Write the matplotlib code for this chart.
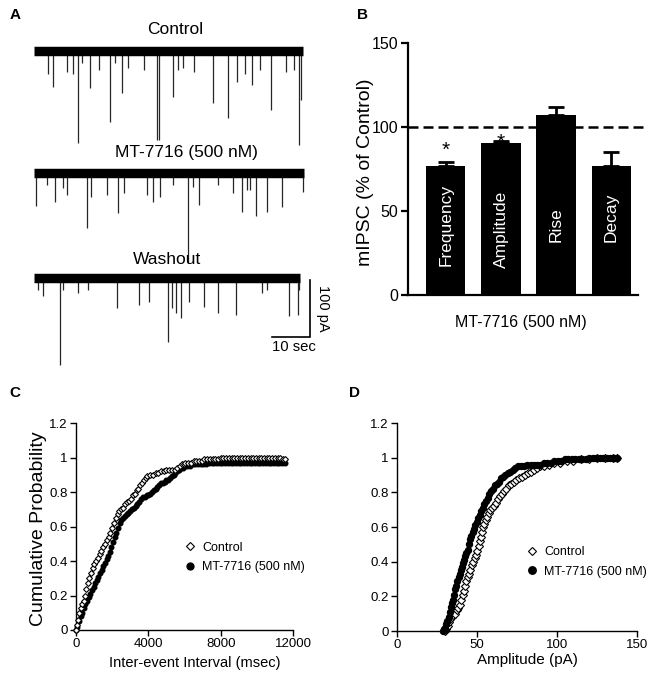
import matplotlib
matplotlib.use('Agg')
import matplotlib.pyplot as plt

plt.rcParams['font.family'] = ['Liberation Sans', 'DejaVu Sans']

# ---------------- Panel A data (event times in s, amplitudes in pA) ----------------
trace_names = ['Control', 'MT-7716 (500 nM)', 'Washout']
trace_dur = [70.8, 71.1, 70.0]
ctrl_t = [3.8, 5.1, 8.6, 10.2, 11.7, 12.6, 14.7, 17.2, 20.0, 21.3, 23.1, 24.8, 28.9, 32.4, 33.0,
          36.7, 38.0, 39.1, 42.2, 47.2, 51.1, 53.5, 55.5, 57.3, 59.5, 62.3, 66.2, 68.5, 69.8, 70.2]
ctrl_amp = [40, 63, 37, 40, 161, 21, 65, 33, 125, 21, 74, 30, 33, 156, 156,
            81, 33, 30, 37, 91, 118, 54, 40, 60, 33, 104, 37, 33, 165, 86]
mt_t = [0.4, 3.3, 5.5, 7.7, 8.6, 14.0, 14.9, 19.3, 22.2, 23.7, 29.7, 31.2, 33.2, 36.5, 40.6,
        41.9, 43.5, 48.5, 52.4, 54.7, 56.0, 56.8, 58.4, 61.2, 65.2, 70.9]
mt_amp = [58, 21, 51, 26, 39, 96, 42, 39, 70, 35, 39, 51, 42, 21, 158,
          25, 56, 21, 35, 68, 30, 30, 75, 68, 60, 33]
wash_t = [1.1, 2.3, 6.8, 7.6, 11.7, 14.3, 21.8, 27.7, 30.3, 35.2, 36.2, 37.4, 38.7, 40.9,
          44.7, 48.5, 53.2, 59.9, 61.2, 67.2, 69.4, 69.8]
wash_amp = [21, 32, 153, 21, 26, 21, 53, 47, 42, 112, 53, 61, 70, 42,
            51, 61, 65, 26, 21, 67, 65, 21]

# ---------------- Panel B data ----------------
b_categories = ['Frequency', 'Amplitude', 'Rise', 'Decay']
b_values = [77, 90.5, 107, 77]
b_errors = [2, 1, 5, 8]
b_label_pos = [42, 39, 42, 46]
b_star_pos = [80.3, 85.3]
b_yticks = [0, 50, 100, 150]

# ---------------- Panel C data (inter-event interval CDF) ----------------
c_ctrl_x = [0, 50, 110, 180, 260, 340, 420, 500, 580, 660, 740, 830, 920, 1010, 1100, 1200,
            1300, 1400, 1500, 1600, 1700, 1800, 1900, 2000, 2100, 2200, 2300, 2400, 2500, 2600,
            2700, 2800, 2950, 3050, 3150, 3250, 3350, 3450, 3550, 3650, 3750, 3850, 3950, 4100,
            4250, 4400, 4550, 4700, 4850, 5000, 5150, 5300, 5450, 5600, 5750, 5850, 5950, 6050,
            6200, 6350, 6500, 6650, 6800, 6950, 7100, 7250, 7400, 7550, 7700, 7850, 8000, 8150,
            8300, 8450, 8600, 8750, 8900, 9050, 9200, 9350, 9500, 9650, 9800, 9950, 10100, 10250,
            10400, 10550, 10700, 10850, 11000, 11150, 11300, 11450, 11550]
c_ctrl_y = [0.0, 0.03, 0.06, 0.10, 0.13, 0.15, 0.17, 0.20, 0.24, 0.27, 0.30, 0.33, 0.36, 0.38,
            0.40, 0.42, 0.44, 0.46, 0.48, 0.50, 0.52, 0.54, 0.56, 0.59, 0.62, 0.65, 0.67, 0.69,
            0.70, 0.71, 0.73, 0.74, 0.75, 0.76, 0.78, 0.79, 0.81, 0.82, 0.84, 0.85, 0.87, 0.88,
            0.89, 0.90, 0.90, 0.91, 0.91, 0.92, 0.92, 0.93, 0.93, 0.93, 0.93, 0.94, 0.95, 0.96,
            0.96, 0.97, 0.97, 0.97, 0.98, 0.98, 0.98, 0.98, 0.99, 0.99, 0.99, 0.99, 0.99, 0.99,
            1.0, 1.0, 1.0, 1.0, 1.0, 1.0, 1.0, 1.0, 1.0, 1.0, 1.0, 1.0, 1.0, 1.0, 1.0, 1.0, 1.0,
            1.0, 1.0, 1.0, 1.0, 1.0, 1.0, 0.99, 0.99]
c_mt_x = [0, 80, 160, 250, 340, 430, 520, 610, 700, 790, 880, 970, 1060, 1150, 1240, 1330,
          1420, 1510, 1600, 1690, 1780, 1870, 1960, 2050, 2140, 2230, 2320, 2410, 2500, 2600,
          2700, 2800, 2900, 3000, 3100, 3200, 3300, 3400, 3500, 3600, 3700, 3800, 3900, 4000,
          4100, 4200, 4300, 4400, 4500, 4600, 4700, 4800, 4900, 5000, 5100, 5200, 5300, 5400,
          5500, 5600, 5700, 5800, 5900, 6000, 6150, 6300, 6450, 6600, 6750, 6900, 7050, 7200,
          7350, 7500, 7650, 7800, 7950, 8100, 8250, 8400, 8550, 8700, 8850, 9000, 9150, 9300,
          9450, 9600, 9750, 9900, 10050, 10200, 10350, 10500, 10650, 10800, 10950, 11100,
          11250, 11400, 11550]
c_mt_y = [0.0, 0.02, 0.05, 0.08, 0.10, 0.13, 0.15, 0.17, 0.19, 0.21, 0.23, 0.25, 0.27, 0.29,
          0.31, 0.33, 0.35, 0.37, 0.39, 0.41, 0.43, 0.45, 0.48, 0.51, 0.54, 0.56, 0.59, 0.62,
          0.64, 0.65, 0.66, 0.67, 0.68, 0.69, 0.70, 0.71, 0.72, 0.73, 0.74, 0.76, 0.77, 0.77,
          0.78, 0.78, 0.79, 0.80, 0.81, 0.82, 0.83, 0.84, 0.85, 0.85, 0.86, 0.87, 0.87, 0.88,
          0.89, 0.90, 0.91, 0.92, 0.93, 0.94, 0.94, 0.95, 0.95, 0.95, 0.96, 0.96, 0.96, 0.96,
          0.96, 0.96, 0.97, 0.97, 0.97, 0.97, 0.97, 0.97, 0.97, 0.97, 0.97, 0.97, 0.97, 0.97,
          0.97, 0.97, 0.97, 0.97, 0.97, 0.97, 0.97, 0.97, 0.97, 0.97, 0.97, 0.97, 0.97, 0.97,
          0.97, 0.97, 0.97]

# ---------------- Panel D data (amplitude CDF) ----------------
d_ctrl_x = [30.0, 30.8, 31.6, 32.4, 33.3, 34.2, 35.2, 36.2, 37.3, 38.4, 39.5, 40.3, 41.0, 41.7,
            42.5, 43.3, 44.1, 45.0, 45.9, 46.8, 47.7, 48.6, 49.5, 50.3, 51.0, 51.7, 52.3, 53.0,
            53.7, 54.5, 55.4, 56.3, 57.3, 58.4, 59.5, 60.6, 61.8, 63.0, 64.3, 65.6, 67.0, 68.4,
            69.9, 71.4, 73.0, 74.6, 76.3, 78.0, 79.8, 81.6, 83.5, 85.5, 87.5, 89.6, 92.0, 95.0,
            98.0, 102.0, 106.0, 110.0, 115.0, 120.0, 125.0, 130.0, 135.0, 137.3]
d_ctrl_y = [0.0, 0.01, 0.03, 0.05, 0.07, 0.08, 0.09, 0.10, 0.12, 0.13, 0.15, 0.18, 0.21, 0.23,
            0.26, 0.29, 0.31, 0.33, 0.35, 0.38, 0.40, 0.42, 0.44, 0.46, 0.49, 0.52, 0.54, 0.57,
            0.60, 0.62, 0.64, 0.66, 0.68, 0.70, 0.71, 0.72, 0.74, 0.76, 0.78, 0.79, 0.81, 0.82,
            0.84, 0.85, 0.86, 0.87, 0.88, 0.89, 0.90, 0.91, 0.92, 0.93, 0.94, 0.95, 0.95, 0.96,
            0.97, 0.97, 0.98, 0.98, 0.99, 0.99, 1.0, 1.0, 1.0, 1.0]
d_mt_x = [28.5, 29.2, 30.0, 30.8, 31.5, 32.2, 32.9, 33.6, 34.3, 35.0, 35.7, 36.4, 37.1, 37.8,
          38.5, 39.2, 39.9, 40.6, 41.3, 42.0, 42.7, 43.4, 44.1, 44.9, 45.7, 46.5, 47.3, 48.1,
          49.0, 49.9, 50.8, 51.7, 52.6, 53.6, 54.6, 55.6, 56.6, 57.7, 58.8, 60.0, 61.2, 62.4,
          63.7, 65.0, 66.4, 67.8, 69.3, 70.8, 72.4, 74.0, 75.8, 77.6, 79.5, 81.5, 83.5, 85.5,
          87.5, 89.6, 91.7, 93.8, 96.0, 98.2, 100.4, 102.6, 104.8, 107.0, 109.2, 111.4, 113.6,
          115.8, 118.0, 120.2, 122.4, 124.6, 126.8, 129.0, 131.2, 133.4, 135.6, 137.3]
d_mt_y = [0.0, 0.01, 0.02, 0.04, 0.06, 0.08, 0.11, 0.14, 0.16, 0.18, 0.21, 0.24, 0.26, 0.29,
          0.31, 0.33, 0.35, 0.37, 0.39, 0.41, 0.43, 0.45, 0.47, 0.50, 0.53, 0.55, 0.57, 0.59,
          0.61, 0.63, 0.65, 0.67, 0.69, 0.71, 0.73, 0.75, 0.77, 0.79, 0.81, 0.82, 0.84, 0.85,
          0.86, 0.88, 0.89, 0.90, 0.91, 0.92, 0.93, 0.94, 0.95, 0.95, 0.95, 0.96, 0.96, 0.96,
          0.96, 0.96, 0.97, 0.97, 0.97, 0.98, 0.98, 0.98, 0.99, 0.99, 0.99, 0.99, 0.99, 0.99,
          0.99, 1.0, 1.0, 1.0, 1.0, 1.0, 1.0, 1.0, 1.0, 1.0]

cdf_yticks = [0, 0.2, 0.4, 0.6, 0.8, 1.0, 1.2]
cdf_yticklabels = ['0', '0.2', '0.4', '0.6', '0.8', '1', '1.2']
c_xticks = [0, 4000, 8000, 12000]
d_xticks = [0, 50, 100, 150]
legend_labels = ['Control', 'MT-7716 (500 nM)']

# ---------------- Figure ----------------
W, H = 649, 680
fig = plt.figure(figsize=(W / 100, H / 100), dpi=100)


def axes_px(x0, y0, x1, y1):
    return fig.add_axes([x0 / W, 1 - y1 / H, (x1 - x0) / W, (y1 - y0) / H])


def ftext(x, y, s, **kw):
    kw.setdefault('ha', 'center')
    kw.setdefault('va', 'center')
    return fig.text(x / W, 1 - y / H, s, **kw)


# ---------------- Panel A ----------------
px_per_s = 3.8
px_per_pA = 0.57
a_left, a_top, a_right, a_bottom = 34, 40, 338, 375
axA = axes_px(a_left, a_top, a_right, a_bottom)
top_pA = (51 - a_top) / px_per_pA
axA.set_xlim(0, (a_right - a_left) / px_per_s)
axA.set_ylim(top_pA - (a_bottom - a_top) / px_per_pA, top_pA)
axA.axis('off')

offsets = [0, -(173 - 51) / px_per_pA, -(278 - 51) / px_per_pA]
events = [(ctrl_t, ctrl_amp), (mt_t, mt_amp), (wash_t, wash_amp)]
for off, dur, (ts, amps) in zip(offsets, trace_dur, events):
    axA.vlines(ts, off, [off - a for a in amps], color='#262626', lw=0.9)
    axA.plot([0, dur], [off, off], color='black', lw=6.8, solid_capstyle='butt')

# scale bar
sb_x = (310 - a_left) / px_per_s
sb_y = top_pA - (337 - a_top) / px_per_pA
axA.plot([sb_x - 10, sb_x, sb_x], [sb_y, sb_y, sb_y + 100], color='black', lw=1.2,
         solid_joinstyle='miter')

ftext(175, 30, trace_names[0], fontsize=12.5)
ftext(186, 153, trace_names[1], fontsize=12.5)
ftext(167, 260, trace_names[2], fontsize=12.5)
ftext(323, 308, '100 pA', fontsize=10.5, rotation=270)
ftext(294, 347, '10 sec', fontsize=10.7)

# ---------------- Panel B ----------------
axB = axes_px(408, 43, 638, 295)
xpos = list(range(len(b_categories)))
axB.bar(xpos, b_values, width=0.71, color='black', zorder=2)
axB.errorbar(xpos, b_values, yerr=[[0] * len(b_errors), b_errors], fmt='none',
             ecolor='black', elinewidth=2, capsize=6, capthick=2, zorder=3)
axB.axhline(100, xmin=0, xmax=1.02, color='black', lw=1.8, ls=(0, (4, 2)), clip_on=False,
            zorder=1)
for i, (name, yp) in enumerate(zip(b_categories, b_label_pos)):
    axB.text(i, yp, name, rotation=90, color='white', ha='center', va='center', fontsize=12.5)
for i, yp in enumerate(b_star_pos):
    axB.text(i, yp, '*', ha='center', va='bottom', fontsize=15)
axB.set_xlim(-0.69, 3.49)
axB.set_ylim(0, 150)
axB.set_yticks(b_yticks)
axB.set_xticks([])
for sp in ['top', 'right']:
    axB.spines[sp].set_visible(False)
for sp in ['left', 'bottom']:
    axB.spines[sp].set_linewidth(1.6)
axB.tick_params(axis='y', direction='out', length=5, width=1.6, labelsize=11.5, pad=2)
ftext(365, 172, 'mIPSC (% of Control)', fontsize=14, rotation=90)
ftext(521, 322, 'MT-7716 (500 nM)', fontsize=11.5)

# ---------------- Panels C & D ----------------
def style_cdf(ax, xticks):
    ax.set_ylim(0, 1.2)
    ax.set_yticks(cdf_yticks)
    ax.set_yticklabels(cdf_yticklabels)
    ax.set_xticks(xticks)
    ax.set_xticklabels([str(t) for t in xticks])
    for sp in ['top', 'right']:
        ax.spines[sp].set_visible(False)
    for sp in ['left', 'bottom']:
        ax.spines[sp].set_linewidth(1.0)
    ax.tick_params(direction='out', length=4, width=1.0, labelsize=9.5, pad=2)


axC = axes_px(76, 423, 293, 630)
axC.set_xlim(0, 12000)
hc2, = axC.plot(c_mt_x, c_mt_y, ls='none', marker='o', ms=3.3, mfc='black', mec='black',
                clip_on=False, zorder=2)
hc1, = axC.plot(c_ctrl_x, c_ctrl_y, ls='none', marker='D', ms=3.0, mfc='white', mec='black',
                mew=0.8, clip_on=False, zorder=3)
style_cdf(axC, c_xticks)
ftext(39, 529, 'Cumulative Probability', fontsize=14, rotation=90)
ftext(195, 663, 'Inter-event Interval (msec)', fontsize=10.5)
axC.legend([hc1, hc2], legend_labels, loc='center left',
           bbox_to_anchor=(185 / W, 1 - 557.5 / H), bbox_transform=fig.transFigure,
           frameon=False, fontsize=9, handlelength=0.8, handletextpad=0.6,
           labelspacing=0.6, borderpad=0, borderaxespad=0, markerscale=1.5)

axD = axes_px(397, 423, 637, 631)
axD.set_xlim(0, 150)
hd1, = axD.plot(d_ctrl_x, d_ctrl_y, ls='none', marker='D', ms=3.6, mfc='white', mec='black',
                mew=0.8, clip_on=False, zorder=2)
hd2, = axD.plot(d_mt_x, d_mt_y, ls='none', marker='o', ms=4.3, mfc='black', mec='black',
                clip_on=False, zorder=3)
style_cdf(axD, d_xticks)
ftext(527, 660, 'Amplitude (pA)', fontsize=11)
axD.legend([hd1, hd2], legend_labels, loc='center left', bbox_to_anchor=(527 / W, 1 - 562 / H),
           bbox_transform=fig.transFigure, frameon=False, fontsize=9, handlelength=0.8,
           handletextpad=0.6, labelspacing=0.6, borderpad=0, borderaxespad=0, markerscale=1.25)

# panel letters
for letter, (x, y) in zip('ABCD', [(15, 15), (362, 15), (15, 393), (355, 393)]):
    ftext(x, y, letter, fontsize=11, fontweight='bold')

fig.savefig('out.png', dpi=100)
